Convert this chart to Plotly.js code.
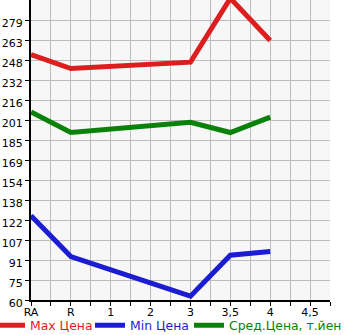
<!DOCTYPE html>
<html><head><meta charset="utf-8">
<script src="https://cdn.plot.ly/plotly-3.0.1.min.js"></script>
<style>body{margin:0;background:#fff}#c{width:345px;height:335px}</style>
</head><body><div id="c"></div>
<script>
var categories = ['RA','R','1','2','3','3,5','4','4,5'];
var catPos = [0,1,2,3,4,5,6,7];
var seriesX = [0,1,4,5,6];
var maxPrice = [252, 241, 246, 296, 263];
var minPrice = [126, 94, 63, 95, 98];
var avgPrice = [207, 191, 199, 191, 203];
var yTickText = ['60','75','91','107','122','138','154','169','185','201','216','232','248','263','279'];
var yMin = 60, yStep = 219/14;
var yTickVals = yTickText.map(function(t,i){return yMin + i*yStep;});

function tr(y, color, name, leg){
  return {x: seriesX, y: y, type:'scatter', mode:'lines', legend: leg,
    line:{color:color, width:5}, name:'<span style="color:'+color+'">'+name+'</span>'};
}
var data = [
  tr(maxPrice,'#dc1e1e','Max Цена','legend'),
  tr(minPrice,'#1c1cd2','Min Цена','legend2'),
  tr(avgPrice,'#0a820a','Сред.Цена, т.йен','legend3')
];
function leg(px){
  return {orientation:'h', x:(px-31)/299, xanchor:'left', y:-0.036, yanchor:'top',
    font:{size:12.4}, bgcolor:'rgba(0,0,0,0)'};
}
var layout = {
  width:345, height:335,
  margin:{l:31, r:15, t:0, b:35, autoexpand:false},
  paper_bgcolor:'#ffffff', plot_bgcolor:'#f7f7f7',
  font:{family:'DejaVu Sans', size:11, color:'#000'},
  showlegend:true,
  legend: leg(-10), legend2: leg(90), legend3: leg(189),
  xaxis:{range:[0,7.5], tickmode:'array', tickvals:catPos, ticktext:categories,
    showgrid:true, gridcolor:'#bdbdbd', gridwidth:1, ticklabelstandoff:-3,
    ticks:'outside', ticklen:4, tickcolor:'#000',
    showline:true, linecolor:'#000', linewidth:2, zeroline:false,
    minor:{dtick:0.5, tick0:0, showgrid:true, gridcolor:'#bdbdbd', ticks:'outside', ticklen:4, tickcolor:'#000'},
    fixedrange:true},
  yaxis:{range:[yMin, yMin + 15*yStep], tickmode:'array', tickvals:yTickVals, ticktext:yTickText,
    showgrid:true, gridcolor:'#bdbdbd', gridwidth:1, ticklabelshift:3,
    ticks:'outside', ticklen:4, tickcolor:'#000',
    showline:true, linecolor:'#000', linewidth:2, zeroline:false, fixedrange:true}
};
Plotly.newPlot('c', data, layout, {displayModeBar:false, staticPlot:true});
</script></body></html>
